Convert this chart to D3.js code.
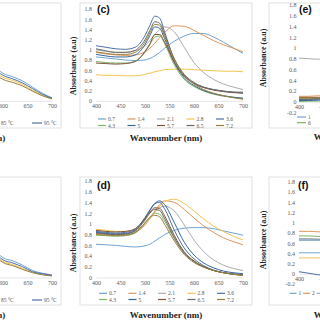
<!DOCTYPE html>
<html>
<head>
<meta charset="utf-8">
<script src="https://cdn.jsdelivr.net/npm/d3@7"></script>
<style>
  body { margin: 0; background: #fff; }
  svg { display: block; }
</style>
</head>
<body>
<div id="chart"></div>
<script>
// wavelength grid shared by every panel (nm)
var wavelengths = [400, 420, 440, 460, 480, 500, 510, 520, 530, 540, 560, 580, 600, 620, 640, 660, 680, 700];
var xTicks = [400, 450, 500, 550, 600, 650, 700];
var yTicks = [0, 0.2, 0.4, 0.6, 0.8, 1, 1.2, 1.4, 1.6, 1.8];
var yTicksNeg = [-0.2, 0, 0.2, 0.4, 0.6, 0.8, 1, 1.2, 1.4, 1.6, 1.8];

// (a) and (b): temperature series (only the tail is in view)
var tempLabels = ["65 °C", "75 °C", "85 °C", "95 °C"];
var aSeries = [
  [0.95,0.91,0.89,0.90,0.96,1.15,1.27,1.35,1.32,1.20,0.92,0.70,0.54,0.47,0.39,0.27,0.15,0.06],
  [0.85,0.82,0.80,0.81,0.86,1.03,1.14,1.21,1.18,1.07,0.82,0.60,0.46,0.40,0.32,0.21,0.11,0.04],
  [0.80,0.77,0.76,0.76,0.81,0.98,1.08,1.15,1.12,1.01,0.77,0.56,0.42,0.36,0.29,0.19,0.10,0.04],
  [0.90,0.87,0.85,0.86,0.91,1.09,1.21,1.28,1.25,1.14,0.87,0.65,0.50,0.43,0.35,0.24,0.13,0.05]
];
var bSeries = [
  [0.85,0.82,0.80,0.81,0.87,1.05,1.17,1.25,1.22,1.10,0.80,0.55,0.37,0.31,0.23,0.13,0.08,0.05],
  [0.78,0.76,0.74,0.75,0.80,0.97,1.08,1.15,1.12,1.01,0.72,0.47,0.30,0.24,0.17,0.10,0.06,0.04],
  [0.75,0.73,0.71,0.72,0.77,0.93,1.04,1.10,1.08,0.97,0.69,0.45,0.28,0.22,0.15,0.09,0.05,0.03],
  [0.80,0.78,0.76,0.77,0.83,1.00,1.11,1.19,1.16,1.04,0.75,0.50,0.33,0.27,0.20,0.11,0.07,0.04]
];

// (c) and (d): pH series
var phLabels = ["0.7", "1.4", "2.1", "2.8", "3.6", "4.3", "5", "5.7", "6.5", "7.2"];
var cSeries = [
  [0.86,0.84,0.82,0.80,0.79,0.80,0.83,0.88,0.95,1.03,1.17,1.27,1.32,1.32,1.25,1.15,1.04,0.93],
  [0.95,0.92,0.90,0.89,0.90,0.96,1.03,1.13,1.24,1.34,1.47,1.46,1.38,1.28,1.18,1.10,1.03,0.96],
  [1.00,0.97,0.95,0.95,0.98,1.08,1.18,1.30,1.40,1.45,1.35,1.05,0.75,0.55,0.42,0.33,0.27,0.22],
  [0.51,0.50,0.50,0.49,0.49,0.52,0.54,0.57,0.59,0.61,0.62,0.62,0.61,0.60,0.59,0.58,0.58,0.57],
  [1.08,1.05,1.02,1.01,1.05,1.28,1.48,1.66,1.62,1.35,0.80,0.50,0.34,0.26,0.22,0.19,0.17,0.15],
  [0.77,0.75,0.74,0.74,0.78,0.95,1.10,1.25,1.27,1.12,0.70,0.42,0.28,0.19,0.13,0.09,0.07,0.05],
  [0.91,0.88,0.86,0.86,0.90,1.10,1.28,1.45,1.42,1.22,0.75,0.45,0.30,0.20,0.14,0.10,0.07,0.05],
  [0.74,0.73,0.72,0.73,0.77,0.97,1.12,1.30,1.30,1.15,0.75,0.48,0.34,0.26,0.21,0.18,0.16,0.15],
  [1.02,0.98,0.95,0.95,0.99,1.20,1.38,1.55,1.52,1.30,0.82,0.52,0.36,0.27,0.22,0.19,0.17,0.17],
  [0.96,0.93,0.91,0.91,0.95,1.15,1.33,1.50,1.48,1.27,0.80,0.50,0.33,0.22,0.15,0.10,0.06,0.03]
];
var dSeries = [
  [0.62,0.61,0.60,0.58,0.57,0.59,0.62,0.68,0.74,0.80,0.88,0.92,0.93,0.93,0.91,0.87,0.83,0.79],
  [0.82,0.80,0.79,0.80,0.84,0.98,1.10,1.24,1.36,1.43,1.40,1.27,1.11,0.96,0.84,0.74,0.67,0.61],
  [0.85,0.83,0.82,0.82,0.86,0.99,1.10,1.22,1.30,1.33,1.24,0.98,0.70,0.48,0.33,0.23,0.17,0.13],
  [0.90,0.88,0.86,0.86,0.89,1.00,1.10,1.22,1.33,1.42,1.46,1.38,1.24,1.09,0.96,0.86,0.77,0.70],
  [0.86,0.84,0.83,0.84,0.90,1.12,1.26,1.38,1.40,1.28,0.88,0.55,0.35,0.22,0.14,0.09,0.07,0.05],
  [0.79,0.78,0.77,0.78,0.83,1.02,1.13,1.20,1.18,1.05,0.72,0.45,0.30,0.20,0.13,0.09,0.06,0.05],
  [0.84,0.82,0.81,0.82,0.88,1.10,1.25,1.38,1.43,1.36,1.02,0.66,0.42,0.27,0.18,0.12,0.09,0.07],
  [0.88,0.86,0.85,0.86,0.91,1.10,1.22,1.30,1.29,1.15,0.78,0.48,0.31,0.20,0.13,0.09,0.06,0.04],
  [0.83,0.81,0.80,0.81,0.87,1.07,1.20,1.27,1.25,1.10,0.74,0.46,0.30,0.20,0.13,0.09,0.06,0.05],
  [0.80,0.79,0.78,0.79,0.84,1.02,1.12,1.16,1.13,0.99,0.68,0.43,0.28,0.19,0.13,0.09,0.06,0.04]
];

// (e) and (f): numbered series (only the start is in view)
var eLabels = ["1", "2", "3", "4", "5", "6", "7", "8", "9", "10"];
var eSeries = [
  [0.03,0.03,0.04,0.04,0.05,0.07,0.09,0.10,0.10,0.09,0.07,0.05,0.04,0.03,0.03,0.02,0.02,0.02],
  [0.10,0.10,0.11,0.11,0.12,0.15,0.17,0.19,0.19,0.17,0.13,0.10,0.08,0.07,0.06,0.05,0.05,0.04],
  [0.81,0.80,0.79,0.79,0.80,0.86,0.91,0.95,0.95,0.92,0.84,0.78,0.74,0.72,0.70,0.69,0.68,0.67],
  [0.06,0.06,0.06,0.07,0.08,0.10,0.12,0.13,0.13,0.12,0.09,0.07,0.06,0.05,0.05,0.04,0.04,0.04],
  [0.05,0.05,0.06,0.06,0.07,0.09,0.11,0.12,0.12,0.11,0.08,0.06,0.05,0.04,0.04,0.03,0.03,0.03],
  [0.00,0.01,0.01,0.02,0.03,0.05,0.06,0.07,0.07,0.06,0.04,0.03,0.02,0.02,0.01,0.01,0.01,0.01],
  [0.02,0.02,0.03,0.03,0.04,0.06,0.07,0.08,0.08,0.07,0.05,0.04,0.03,0.02,0.02,0.02,0.01,0.01],
  [0.08,0.08,0.08,0.09,0.10,0.12,0.14,0.15,0.15,0.14,0.11,0.09,0.07,0.06,0.06,0.05,0.05,0.05],
  [0.04,0.04,0.05,0.05,0.06,0.08,0.09,0.10,0.10,0.09,0.07,0.05,0.04,0.04,0.03,0.03,0.03,0.03],
  [0.07,0.07,0.07,0.08,0.09,0.11,0.13,0.14,0.14,0.13,0.10,0.08,0.06,0.06,0.05,0.05,0.04,0.04]
];
var fLabels = ["1", "2", "3", "4", "5", "6", "7"];
var fSeries = [
  [0.41,0.41,0.41,0.41,0.42,0.45,0.47,0.49,0.49,0.48,0.45,0.43,0.42,0.41,0.41,0.40,0.40,0.40],
  [0.83,0.83,0.82,0.82,0.83,0.86,0.88,0.90,0.90,0.89,0.86,0.84,0.83,0.82,0.82,0.81,0.81,0.81],
  [0.69,0.69,0.68,0.68,0.69,0.72,0.74,0.76,0.76,0.75,0.72,0.70,0.69,0.68,0.68,0.67,0.67,0.67],
  [0.31,0.31,0.31,0.31,0.32,0.35,0.37,0.38,0.38,0.37,0.35,0.33,0.32,0.31,0.31,0.31,0.30,0.30],
  [0.04,0.01,-0.02,-0.03,-0.03,-0.02,-0.01,0.00,0.00,-0.01,-0.02,-0.03,-0.03,-0.04,-0.04,-0.04,-0.04,-0.04],
  [0.74,0.74,0.73,0.73,0.74,0.77,0.79,0.81,0.81,0.80,0.77,0.75,0.74,0.73,0.73,0.72,0.72,0.72],
  [0.66,0.66,0.66,0.66,0.67,0.70,0.72,0.74,0.74,0.73,0.70,0.68,0.67,0.66,0.66,0.65,0.65,0.65]
];

// office-style palette, a bit washed out like the scan
var palette = ["#6fa3d4", "#e0955c", "#acacac", "#f2c550", "#4f6fa8", "#82b366", "#34679a", "#7e5338", "#6a6a6a", "#9a7f3a"];
var tempColors = ["#6fa3d4", "#f2c550", "#9a7f3a", "#4f6fa8"];

var serif = "'Liberation Serif', 'Times New Roman', serif";
var sans = "'Liberation Sans', Arial, sans-serif";

var svg = d3.select("#chart").append("svg")
    .attr("width", 320)
    .attr("height", 320);
svg.append("rect").attr("width", 320).attr("height", 320).attr("fill", "#fff");

var panels = [
  {tag: "(a)", labels: tempLabels, series: aSeries, colors: tempColors, yt: yTicks,
   fx: -111, fy: 3, fw: 172, fh: 125, px0: -95, px1: 52, ymin: 0, yb: 100.8, ytop: 9, tickX: -99,
   lx: -97, ldx: 43, rows: [125], perRow: 4, llen: 10, titleX: -31, titleY: 141, ytX: -118, ytY: 66, tagX: -94, tagY: 13},
  {tag: "(b)", labels: tempLabels, series: bSeries, colors: tempColors, yt: yTicks,
   fx: -111, fy: 177, fw: 172, fh: 128, px0: -95, px1: 52, ymin: 0, yb: 277.5, ytop: 181, tickX: -99,
   lx: -97, ldx: 43, rows: [302], perRow: 4, llen: 10, titleX: -31, titleY: 318, ytX: -118, ytY: 243, tagX: -94, tagY: 189},
  {tag: "(c)", labels: phLabels, series: cSeries, colors: palette, yt: yTicks,
   fx: 80, fy: 3, fw: 172, fh: 125, px0: 96, px1: 243, ymin: 0, yb: 100.8, ytop: 9, tickX: 92,
   lx: 98, ldx: 29.5, rows: [121, 127.5], perRow: 5, llen: 8, titleX: 166, titleY: 141, ytX: 73, ytY: 66, tagX: 97, tagY: 13},
  {tag: "(d)", labels: phLabels, series: dSeries, colors: palette, yt: yTicks,
   fx: 80, fy: 177, fw: 172, fh: 128, px0: 96, px1: 243, ymin: 0, yb: 277.5, ytop: 181, tickX: 92,
   lx: 99, ldx: 29.5, rows: [295.3, 301.5], perRow: 5, llen: 8, titleX: 166, titleY: 318, ytX: 73, ytY: 243, tagX: 97, tagY: 189},
  {tag: "(e)", labels: eLabels, series: eSeries, colors: palette, yt: yTicksNeg,
   fx: 269, fy: 3, fw: 172, fh: 125, px0: 299, px1: 446, ymin: -0.2, yb: 112.4, ytop: 5, tickX: 296.5,
   lx: 297, ldx: 29.5, rows: [119, 124.7], perRow: 5, llen: 9, titleX: 350, titleY: 140, ytX: 263, ytY: 58, tagX: 299, tagY: 13},
  {tag: "(f)", labels: fLabels, series: fSeries, colors: palette, yt: yTicksNeg,
   fx: 269, fy: 177, fw: 172, fh: 128, px0: 299, px1: 446, ymin: -0.2, yb: 284, ytop: 181.7, tickX: 295,
   lx: 289.5, ldx: 13.5, rows: [295.3], perRow: 10, llen: 7, titleX: 350, titleY: 318, ytX: 263, ytY: 240, tagX: 298, tagY: 189}
];

function drawPanel(p) {
  var g = svg.append("g");

  g.append("rect")
    .attr("x", p.fx).attr("y", p.fy)
    .attr("width", p.fw).attr("height", p.fh)
    .attr("fill", "#fff")
    .attr("stroke", "#d9d9d9")
    .attr("stroke-width", 0.8);

  var x = d3.scaleLinear().domain([400, 700]).range([p.px0, p.px1]);
  var y = d3.scaleLinear().domain([p.ymin, 1.8]).range([p.yb, p.ytop]);

  // y tick labels
  var yAx = g.append("g")
    .attr("transform", `translate(${p.tickX},0)`)
    .call(d3.axisLeft(y).tickValues(p.yt).tickSize(0).tickPadding(0).tickFormat(d => String(d)));
  yAx.select(".domain").remove();
  yAx.selectAll("text")
    .attr("font-family", serif).attr("font-size", 6).attr("fill", "#595959");

  // x axis sits on zero
  var xAx = g.append("g")
    .attr("transform", `translate(0,${y(0)})`)
    .call(d3.axisBottom(x).tickValues(xTicks).tickSize(0).tickPadding(3));
  xAx.select(".domain").attr("stroke", "#d9d9d9").attr("stroke-width", 0.7);
  xAx.selectAll("text")
    .attr("font-family", serif).attr("font-size", 6).attr("fill", "#595959");

  var line = d3.line()
    .x((d, i) => x(wavelengths[i]))
    .y(d => y(d))
    .curve(d3.curveMonotoneX);

  g.append("g").selectAll("path")
    .data(p.series)
    .join("path")
      .attr("d", line)
      .attr("fill", "none")
      .attr("stroke", (d, i) => p.colors[i])
      .attr("stroke-width", 1);

  // legend
  p.labels.forEach(function(lab, i) {
    var row = Math.floor(i / p.perRow), col = i % p.perRow;
    var lx = p.lx + col * p.ldx, ly = p.rows[row];
    if (ly === undefined) return;
    g.append("line")
      .attr("x1", lx).attr("x2", lx + p.llen)
      .attr("y1", ly - 2).attr("y2", ly - 2)
      .attr("stroke", p.colors[i]).attr("stroke-width", 1.2);
    g.append("text")
      .attr("x", lx + p.llen + 2).attr("y", ly)
      .attr("font-family", serif).attr("font-size", 5.5).attr("fill", "#595959")
      .text(lab);
  });

  g.append("text")
    .attr("x", p.tagX).attr("y", p.tagY)
    .attr("font-family", sans).attr("font-weight", "bold").attr("font-size", 10.5)
    .attr("fill", "#111")
    .text(p.tag);

  g.append("text")
    .attr("x", p.titleX).attr("y", p.titleY)
    .attr("text-anchor", "middle")
    .attr("font-family", serif).attr("font-weight", "bold").attr("font-size", 9)
    .attr("fill", "#222")
    .text("Wavenumber (nm)");

  g.append("text")
    .attr("transform", `translate(${p.ytX + 3},${p.ytY}) rotate(-90)`)
    .attr("text-anchor", "middle")
    .attr("font-family", serif).attr("font-weight", "bold").attr("font-size", 8)
    .attr("fill", "#222")
    .text("Absorbance (a.u)");
}

panels.forEach(drawPanel);
</script>
</body>
</html>
